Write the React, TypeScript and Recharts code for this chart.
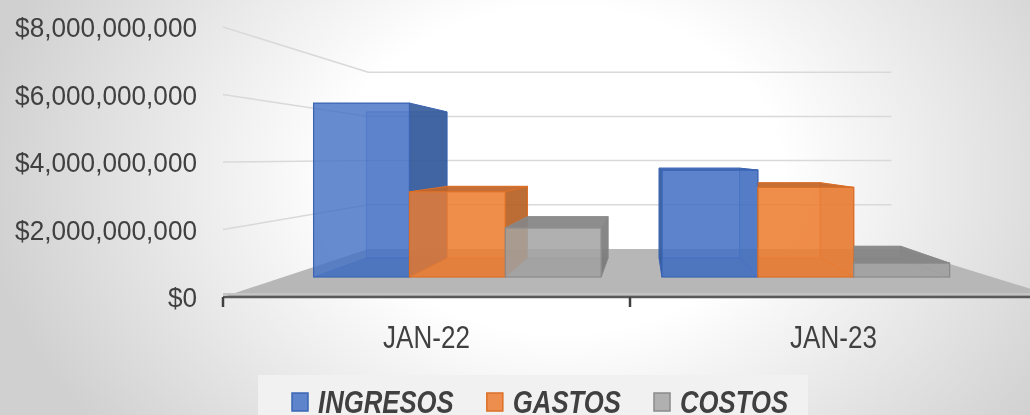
import React from 'react';
import { BarChart, Bar, XAxis, YAxis, CartesianGrid, Legend } from 'recharts';

const categories = ['JAN-22', 'JAN-23'];
const ingresos = [6.02e9, 3.7e9];
const gastos = [2.95e9, 3.1e9];
const costos = [1.7e9, 0.48e9];
const yTicks = [0, 2e9, 4e9, 6e9, 8e9];
const seriesNames = ['INGRESOS', 'GASTOS', 'COSTOS'];

const data = categories.map((name, i) => ({
  name,
  INGRESOS: ingresos[i],
  GASTOS: gastos[i],
  COSTOS: costos[i],
}));

// fake 3D: everything is projected toward a vanishing point
const VP = { x: 644, y: 158 };
const S_FRONT = 0.856;
const S_BACK = 0.719;
const S_WALL = 0.655;

const colors = [
  { front: '#4472c4', side: '#2f5597', top: '#3a64ae', edge: '#3b65b3' },
  { front: '#ed7d31', side: '#b35d22', top: '#c0662b', edge: '#dc6f26' },
  { front: '#a5a5a5', side: '#7a7a7a', top: '#868686', edge: '#8a8a8a' },
];

type Pt = [number, number];
const proj = (x: number, y: number, s: number): Pt => [VP.x + (x - VP.x) * s, VP.y + (y - VP.y) * s];
const poly = (pts: Pt[]) => pts.map((p) => p.join(',')).join(' ');

function Box3D(props: any) {
  const { x, y, width, height, series, index } = props;
  if (!height || height <= 0) return null;
  const c = colors[series];
  const x0 = x, x1 = x + width, yt = y, yb = y + height;
  const F = [proj(x0, yt, S_FRONT), proj(x1, yt, S_FRONT), proj(x1, yb, S_FRONT), proj(x0, yb, S_FRONT)];
  const B = [proj(x0, yt, S_BACK), proj(x1, yt, S_BACK), proj(x1, yb, S_BACK), proj(x0, yb, S_BACK)];
  const leftOfVP = x + width / 2 < VP.x;
  const topVisible = yt > VP.y;
  // right of the vanishing point the previous bar hides what lies left of our front face
  const hiddenByPrev = !leftOfVP && series > 0;
  const clipId = `clip-${series}-${index}`;
  return (
    <g>
      {hiddenByPrev && (
        <defs>
          <clipPath id={clipId}>
            <rect x={F[0][0]} y={0} width={2000} height={2000} />
          </clipPath>
        </defs>
      )}
      <g clipPath={hiddenByPrev ? `url(#${clipId})` : undefined}>
        <polygon points={poly(B)} fill={c.front} fillOpacity={0.3} stroke={c.edge} strokeOpacity={0.5} />
        <polygon points={poly([F[3], F[2], B[2], B[3]])} fill={c.side} fillOpacity={0.45} stroke={c.edge} strokeOpacity={0.5} />
        {!leftOfVP && (
          <polygon points={poly([F[1], B[1], B[2], F[2]])} fill={c.side} fillOpacity={0.45} stroke={c.edge} strokeOpacity={0.6} />
        )}
        {leftOfVP ? (
          <polygon points={poly([F[1], B[1], B[2], F[2]])} fill={c.side} fillOpacity={0.88} stroke={c.edge} />
        ) : series === 0 ? (
          <polygon points={poly([F[0], B[0], B[3], F[3]])} fill={c.side} fillOpacity={0.88} stroke={c.edge} />
        ) : null}
        {topVisible && (
          <polygon points={poly([F[0], F[1], B[1], B[0]])} fill={c.top} fillOpacity={0.92} stroke={c.edge} />
        )}
      </g>
      <polygon points={poly(F)} fill={c.front} fillOpacity={0.82} stroke={c.edge} strokeWidth={1.2} />
    </g>
  );
}

function GridLine(p: any) {
  const { x1, y1, x2 } = p;
  const bottom = p.y != null && p.height != null ? p.y + p.height : 297;
  if (Math.abs(y1 - bottom) < 1) {
    const bl = proj(x1, y1, S_WALL);
    const br = proj(x2, y1, S_WALL);
    return (
      <g>
        <polygon points={poly([[x1, y1], bl, br, [x2 + 20, y1]])} fill="#b7b7b7" />
        <line x1={x1} y1={y1 - 3} x2={x2 + 20} y2={y1 - 3} stroke="#c4c4c4" strokeWidth={2} />
        <line x1={x1} y1={y1} x2={x2 + 20} y2={y1} stroke="#595959" strokeWidth={2.5} />
      </g>
    );
  }
  const corner = proj(x1, y1, S_WALL);
  const end = proj(x2, y1, S_WALL);
  return (
    <polyline
      points={poly([[x1, y1], corner, [end[0] - 10, corner[1]]])}
      fill="none"
      stroke="#d9d9d9"
      strokeWidth={1.5}
    />
  );
}

const fmt = (v: number) => '$' + v.toLocaleString('en-US');

function YTick(p: any) {
  const { x, y, payload } = p;
  return (
    <text
      transform={`translate(${x},${y + 10}) scale(0.935,1)`}
      textAnchor="end"
      fontSize={28}
      fill="#404040"
      fontFamily="'Liberation Sans', Arial, sans-serif"
    >
      {fmt(payload.value)}
    </text>
  );
}

function XTick(p: any) {
  const { x, y, payload } = p;
  const off = payload.offset || 0;
  return (
    <g>
      <line x1={x - off} y1={y - 8} x2={x - off} y2={y + 2} stroke="#404040" strokeWidth={2.5} />
      <text
        transform={`translate(${x},${y + 43}) scale(0.84,1)`}
        textAnchor="middle"
        fontSize={31}
        fill="#404040"
        fontFamily="'Liberation Sans', Arial, sans-serif"
      >
        {payload.value}
      </text>
    </g>
  );
}

let ctx: CanvasRenderingContext2D | null = null;
const LEGEND_SIZE = 31;
const LEGEND_SCALE = 0.83;
const LEGEND_FONT = `italic bold ${LEGEND_SIZE}px 'Liberation Sans', Arial, sans-serif`;
function measure(t: string) {
  if (!ctx) ctx = document.createElement('canvas').getContext('2d');
  if (!ctx) return t.length * 20;
  ctx.font = LEGEND_FONT;
  return ctx.measureText(t).width;
}

function LegendContent(p: any) {
  const items = [...((p.payload || []) as any[])].sort(
    (a, b) => seriesNames.indexOf(a.value) - seriesNames.indexOf(b.value),
  );
  let cx = 34;
  const parts = items.map((it, i) => {
    const c = colors[seriesNames.indexOf(it.value)] || colors[i];
    const w = measure(it.value) * LEGEND_SCALE;
    const g = (
      <g key={it.value}>
        <rect x={cx} y={18} width={16} height={18} fill={c.front} fillOpacity={0.85} stroke={c.edge} strokeWidth={1.5} />
        <text
          transform={`translate(${cx + 26},${38}) scale(${LEGEND_SCALE},1)`}
          fontSize={LEGEND_SIZE}
          fontStyle="italic"
          fontWeight="bold"
          fill="#404040"
          fontFamily="'Liberation Sans', Arial, sans-serif"
        >
          {it.value}
        </text>
      </g>
    );
    cx += 26 + w + 33;
    return g;
  });
  return (
    <svg width={550} height={40} style={{ display: 'block' }}>
      <rect x={0} y={0} width={550} height={40} fill="#f1f1f1" />
      {parts}
    </svg>
  );
}

export default function App() {
  return (
    <div
      style={{
        position: 'fixed',
        left: 0,
        top: 0,
        width: 1030,
        height: 415,
        overflow: 'hidden',
        background: 'radial-gradient(ellipse 580px 430px at 560px 170px, #ffffff 38%, #d0d0d0 100%)',
      }}
    >
      <BarChart
        width={1040}
        height={415}
        data={data}
        margin={{ top: 27, right: 3, left: 0, bottom: 88 }}
        barCategoryGap="8.6%"
        barGap={0}
        style={{ overflow: 'visible' }}
      >
        <CartesianGrid vertical={false} horizontal={(p: any) => <GridLine key={p.key} {...p} />} />
        <XAxis dataKey="name" axisLine={false} tickLine={false} height={30} tick={<XTick />} interval={0} />
        <YAxis
          domain={[0, 8e9]}
          ticks={yTicks}
          axisLine={false}
          tickLine={false}
          width={223}
          tickSize={6}
          tickMargin={20}
          tick={<YTick />}
          interval={0}
        />
        <Legend
          layout="horizontal"
          verticalAlign="middle"
          align="center"
          wrapperStyle={{ left: 258, top: 375, width: 550, height: 40 }}
          content={<LegendContent />}
        />
        {seriesNames.map((k, i) => (
          <Bar
            key={k}
            dataKey={k}
            fill={colors[i].front}
            isAnimationActive={false}
            shape={(p: any) => <Box3D {...p} series={i} />}
          />
        ))}
      </BarChart>
    </div>
  );
}
